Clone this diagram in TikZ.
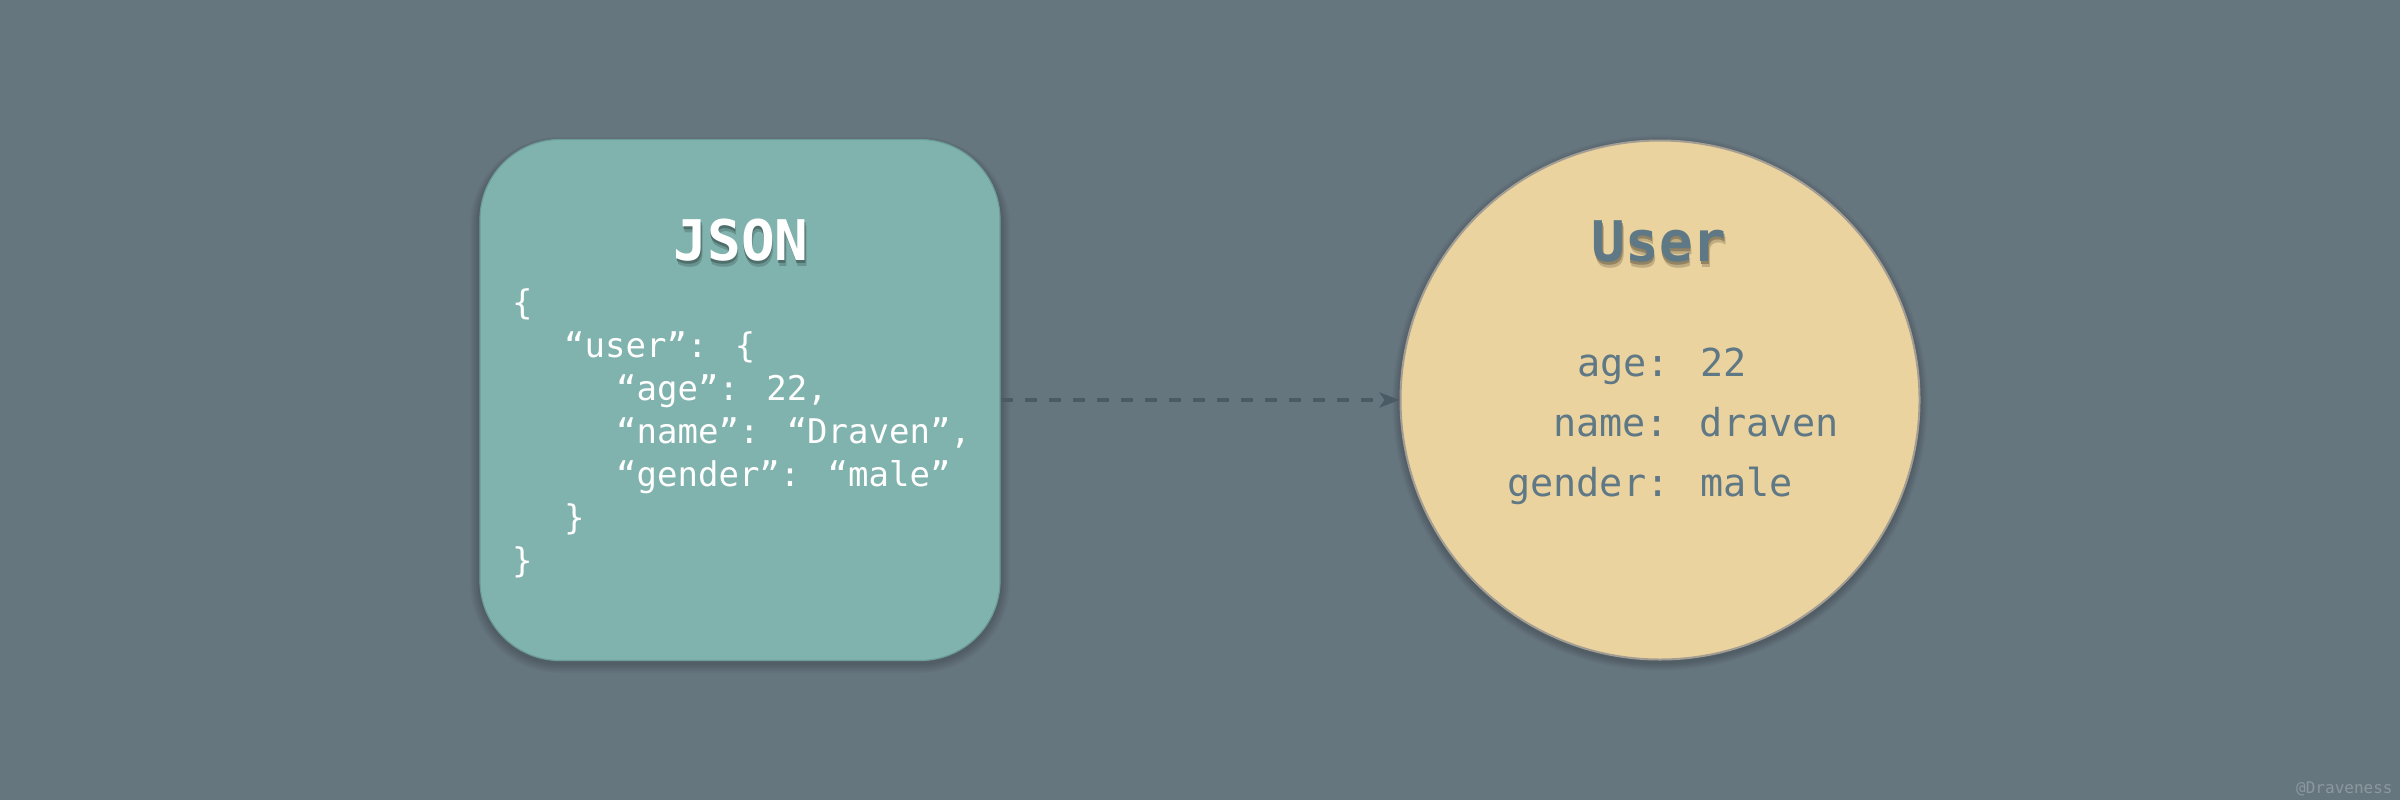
\documentclass[tikz,border=0pt]{standalone}
\usepackage{fontspec}
\newfontfamily\codefont{DejaVu Sans Mono}
\usetikzlibrary{arrows.meta}
\definecolor{bgc}{HTML}{66767F}
\definecolor{tealc}{HTML}{80B3AE}
\definecolor{tealedge}{HTML}{6C9D98}
\definecolor{sandc}{HTML}{EBD39F}
\definecolor{sandedge}{HTML}{A39E93}
\definecolor{slatec}{HTML}{5F7886}
\definecolor{arrowc}{HTML}{4B5A64}
\definecolor{markc}{HTML}{8C989F}
\newcommand\shtext[4]{%
  \makebox[0pt][l]{\hspace{1.5pt}\raisebox{-6pt}{\textcolor{#2}{#1}}}%
  \makebox[0pt][l]{\hspace{0.5pt}\raisebox{-3.5pt}{\textcolor{#3}{#1}}}%
  \textcolor{#4}{#1}}
\tikzset{
  titletext/.style={anchor=base, inner sep=0pt, font=\codefont\bfseries\fontsize{56}{60}\selectfont},
  jsontext/.style={anchor=base west, inner sep=0pt, text=white, font=\codefont\fontsize{34}{40}\selectfont},
  usertext/.style={anchor=base west, inner sep=0pt, text=slatec, font=\codefont\fontsize{38.5}{44}\selectfont},
  shadowlayer/.style={fill=black, opacity=0.04, draw=none},
  flow/.style={draw=arrowc, line width=3.3pt, dash pattern=on 12pt off 12pt,
    -{Stealth[length=20pt, width=15pt, inset=5pt]}, shorten >=0pt}
}
\begin{document}
\begin{tikzpicture}[x=1pt,y=-1pt]
\path[use as bounding box, fill=bgc] (0,0) rectangle (2400,800);
% soft shadows
\foreach \i in {1,...,5}{
  \fill[shadowlayer, rounded corners=80pt+\i*2pt]
    (480-\i*2, 139-\i*1+3) rectangle (1000+\i*2, 660+\i*2+3);
  \fill[shadowlayer] (1660,403) circle (259.5+\i*1.6);
}
% JSON box
\node[minimum width=520pt, minimum height=521pt, rounded corners=80pt,
      fill=tealc, draw=tealedge, line width=1.2pt, inner sep=0pt] (json) at (740,400) {};
% User circle
\node[circle, minimum size=519pt, fill=sandc, draw=sandedge, line width=2pt,
      inner sep=0pt] (user) at (1660,400) {};
% arrow
\draw[flow] (json.east) -- (user.west);
% titles (shadow drawn inside the same node)
\node[titletext] (jsontitle) at (741,260) {\shtext{JSON}{tealc!82!black}{tealc!62!black}{white}};
\node[titletext] (usertitle) at (1659,261) {\shtext{User}{sandc!82!black}{sandc!62!black}{slatec}};
% JSON code
\node[jsontext] (l1) at (512,314) {\{};
\node[jsontext] (l2) at (564,357) {“user”: \{};
\node[jsontext] (l3) at (616,400) {“age”: 22,};
\node[jsontext] (l4) at (616,443) {“name”: “Draven”,};
\node[jsontext] (l5) at (616,486) {“gender”: “male”};
\node[jsontext] (l6) at (564,529) {\}};
\node[jsontext] (l7) at (512,572) {\}};
% User fields
\node[usertext] (f1) at (1577,376) {age: 22};
\node[usertext] (f2) at (1553,436) {name: draven};
\node[usertext] (f3) at (1507,496) {gender: male};
% watermark
\node[anchor=base west, inner sep=0pt, text=markc, font=\codefont\fontsize{16}{18}\selectfont] (mark) at (2296,793) {@Draveness};
\end{tikzpicture}
\end{document}
